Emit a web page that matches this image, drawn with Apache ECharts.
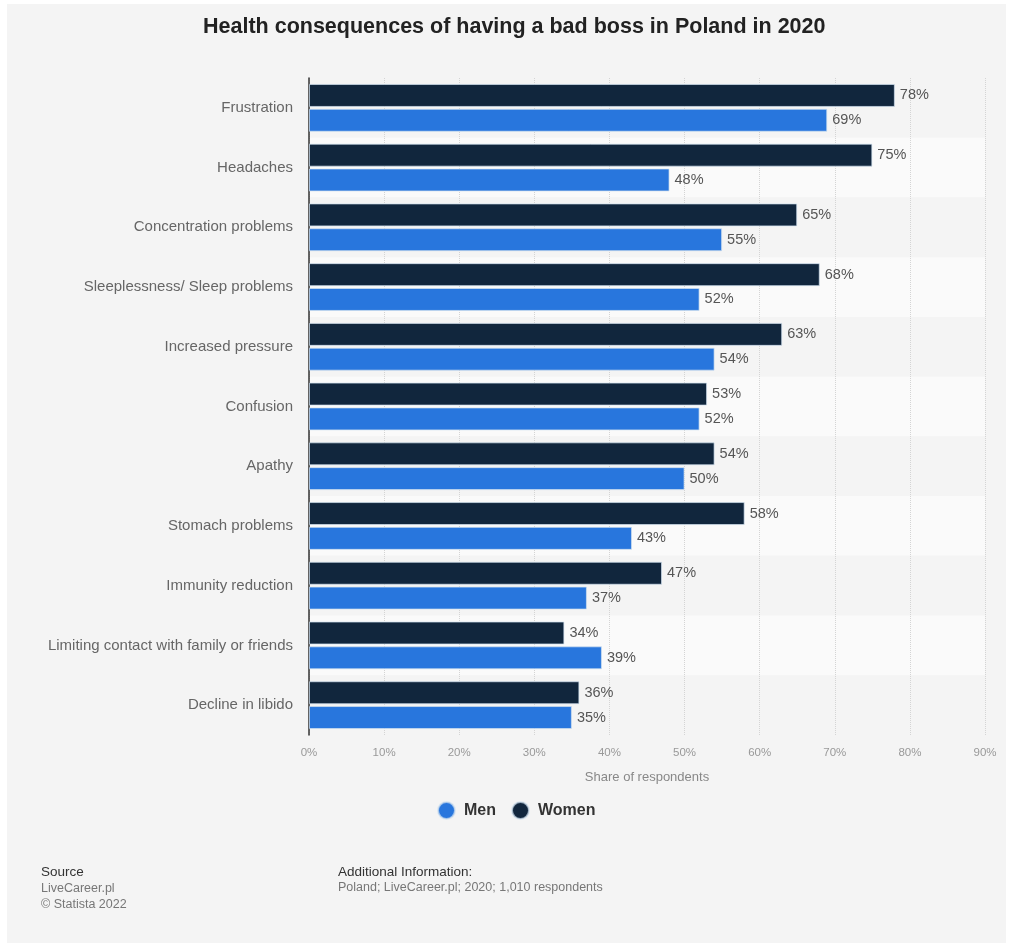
<!DOCTYPE html>
<html>
<head>
<meta charset="utf-8">
<script src="https://cdn.jsdelivr.net/npm/echarts@6/dist/echarts.min.js"></script>
<style>
  html, body { margin: 0; padding: 0; background: #fff; }
  #chart { width: 1013px; height: 947px; }
</style>
</head>
<body>
<div id="chart"></div>
<script>
const categories = [
  'Frustration',
  'Headaches',
  'Concentration problems',
  'Sleeplessness/ Sleep problems',
  'Increased pressure',
  'Confusion',
  'Apathy',
  'Stomach problems',
  'Immunity reduction',
  'Limiting contact with family or friends',
  'Decline in libido'
];
const women = [78, 75, 65, 68, 63, 53, 54, 58, 47, 34, 36];
const men = [69, 48, 55, 52, 54, 52, 50, 43, 37, 39, 35];
const xTicks = [0, 90, 10];

const font = '"Liberation Sans", Arial, sans-serif';
const chart = echarts.init(document.getElementById('chart'));

const barLabel = {
  show: true,
  position: 'right',
  distance: 5,
  formatter: '{c}%',
  color: '#555',
  fontSize: 14.5,
  fontFamily: font
};

chart.setOption({
  backgroundColor: '#fff',
  textStyle: { fontFamily: font },
  graphic: [
    { type: 'rect', z: -10, shape: { x: 7, y: 4, width: 999, height: 939 }, style: { fill: '#f4f4f4' } },
    { type: 'text', left: 41, top: 865, style: { text: 'Source', fill: '#333', fontSize: 13.5, fontFamily: font } },
    { type: 'text', left: 41, top: 881, style: { text: 'LiveCareer.pl\n© Statista 2022', fill: '#777', fontSize: 12.5, lineHeight: 16, fontFamily: font } },
    { type: 'text', left: 338, top: 865, style: { text: 'Additional Information:', fill: '#333', fontSize: 13.5, fontFamily: font } },
    { type: 'text', left: 338, top: 881, style: { text: 'Poland; LiveCareer.pl; 2020; 1,010 respondents', fill: '#777', fontSize: 12.5, fontFamily: font } }
  ],
  title: {
    text: 'Health consequences of having a bad boss in Poland in 2020',
    left: 198,
    top: 11,
    textStyle: { color: '#222', fontSize: 21.5, fontWeight: 'bold', fontFamily: font }
  },
  legend: {
    data: ['Men', 'Women'],
    bottom: 122,
    left: 432,
    icon: 'circle',
    itemWidth: 17,
    itemHeight: 17,
    itemGap: 15,
    textStyle: { color: '#333', fontSize: 16, fontWeight: 'bold', fontFamily: font, padding: [0, 0, 0, 4] }
  },
  grid: { left: 309, right: 28, top: 78, bottom: 212 },
  xAxis: {
    type: 'value',
    min: xTicks[0],
    max: xTicks[1],
    interval: xTicks[2],
    name: 'Share of respondents',
    nameLocation: 'middle',
    nameGap: 36,
    nameTextStyle: { color: '#888', fontSize: 13 },
    axisLabel: { formatter: '{value}%', color: '#999', fontSize: 11.5, margin: 12 },
    axisLine: { show: false },
    axisTick: { show: false },
    splitLine: { show: true, lineStyle: { color: '#d4d4d4', type: 'dotted', width: 1 } }
  },
  yAxis: {
    type: 'category',
    data: categories,
    inverse: true,
    axisLine: { show: true, lineStyle: { color: '#333', width: 1.5 } },
    axisTick: { show: false },
    axisLabel: { color: '#666', fontSize: 15, margin: 16 },
    splitArea: { show: true, areaStyle: { color: ['rgba(244,244,244,1)', '#fafafa'] } }
  },
  series: [
    {
      name: 'Women',
      type: 'bar',
      data: women,
      barGap: '8%',
      barCategoryGap: '20%',
      itemStyle: { color: '#11263d', borderColor: 'rgba(210,225,240,0.7)', borderWidth: 1 },
      label: barLabel
    },
    {
      name: 'Men',
      type: 'bar',
      data: men,
      barGap: '8%',
      barCategoryGap: '20%',
      itemStyle: { color: '#2876dd', borderColor: 'rgba(210,225,240,0.7)', borderWidth: 1 },
      label: barLabel
    }
  ]
});
</script>
</body>
</html>
